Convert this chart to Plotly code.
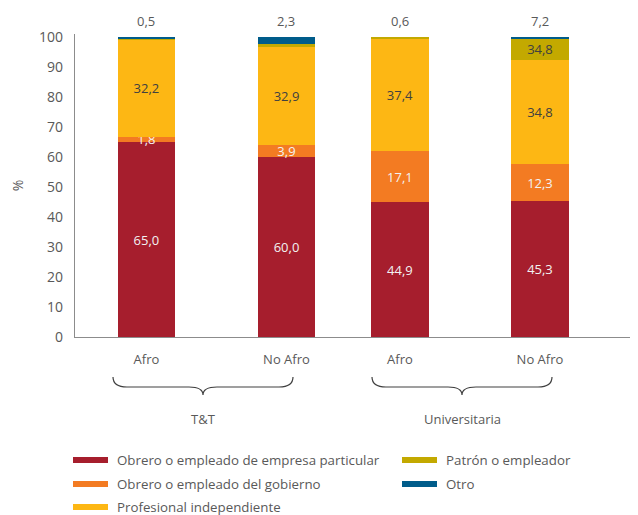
import plotly.graph_objects as go

# ---- data ----
bar_labels = ["Afro", "No Afro", "Afro", "No Afro"]
group_labels = ["T&T", "Universitaria"]
series_names = [
    "Obrero o empleado de empresa particular",
    "Obrero o empleado del gobierno",
    "Profesional independiente",
    "Patrón o empleador",
    "Otro",
]
obrero_particular = [65.0, 60.0, 44.9, 45.3]
obrero_gobierno = [1.8, 3.9, 17.1, 12.3]
profesional = [32.2, 32.9, 37.4, 34.8]
patron = [0.5, 0.9, 0.6, 7.2]
otro = [0.5, 2.3, 0.0, 0.4]
patron_text = ["", "", "", "34,8"]
top_text = ["0,5", "2,3", "0,6", "7,2"]
y_ticks = [0, 10, 20, 30, 40, 50, 60, 70, 80, 90, 100]

# ---- layout / style ----
x_pos = [0.51, 1.51, 2.32, 3.32]
bar_w = 0.41
colors = ["#A61E2D", "#F37B22", "#FDB714", "#C3A900", "#005C8A"]
FONT = "Open Sans"
GRAY = "#595959"

def fmt(v):
    return f"{v:.1f}".replace(".", ",")

series = [obrero_particular, obrero_gobierno, profesional, patron, otro]
texts = [
    [fmt(v) for v in obrero_particular],
    [fmt(v) for v in obrero_gobierno],
    [fmt(v) for v in profesional],
    patron_text,
    ["" for _ in otro],
]
text_colors = ["#F2F2F2", "#F2F2F2", "#404040", "#404040", "#F2F2F2"]

fig = go.Figure()
for name, vals, txt, col, tcol in zip(series_names, series, texts, colors, text_colors):
    fig.add_trace(go.Bar(
        x=x_pos, y=vals, name=name, width=bar_w,
        marker=dict(color=col, line=dict(width=0)),
        text=txt, textposition="inside", insidetextanchor="middle",
        constraintext="none", textangle=0,
        textfont=dict(family=FONT, size=13, color=tcol),
        showlegend=False, hoverinfo="skip",
    ))

# top labels
totals = [sum(s[i] for s in series) for i in range(len(x_pos))]
annotations = []
for xp, tot, t in zip(x_pos, totals, top_text):
    annotations.append(dict(x=xp, y=tot, xref="x", yref="y", text=t, showarrow=False,
                            yanchor="bottom", yshift=5,
                            font=dict(family=FONT, size=13, color=GRAY)))

OFF = 8  # page body offset
W, H = 638 - OFF, 515 - OFF
ml, mr, mt, mb = 75 - OFF, 0, 34 - OFF, 178
pw, ph = W - ml - mr, H - mt - mb
xr = [0, 4.02]

def px_x(px):
    return (px - 75) / pw

def px_y(py):
    return (337 - py) / ph

shapes = []
# braces
for (lx, rx, cx), lab in zip([(113, 293, 203), (372, 552, 462)], group_labels):
    x0, x1, xm = px_x(lx), px_x(rx), px_x(cx)
    y0, ym, yt = px_y(377), px_y(387), px_y(395)
    d = 14 / pw
    path = (f"M {x0},{y0} Q {x0},{ym} {x0+d},{ym} L {xm-d},{ym} "
            f"Q {xm},{ym} {xm},{yt} Q {xm},{ym} {xm+d},{ym} "
            f"L {x1-d},{ym} Q {x1},{ym} {x1},{y0}")
    shapes.append(dict(type="path", path=path, xref="paper", yref="paper",
                       line=dict(color="#404040", width=1.2)))
    annotations.append(dict(x=xm, y=px_y(419), xref="paper", yref="paper", text=lab,
                            showarrow=False, xanchor="center", yanchor="middle",
                            font=dict(family=FONT, size=13, color=GRAY)))

# legend (custom)
legend_layout = [
    (0, 73, 460), (1, 73, 484), (2, 73, 507), (3, 402, 460), (4, 402, 484)
]
for idx, sx, sy in legend_layout:
    shapes.append(dict(type="rect", xref="paper", yref="paper",
                       x0=px_x(sx), x1=px_x(sx + 35), y0=px_y(sy - 3), y1=px_y(sy + 3),
                       fillcolor=colors[idx], line=dict(width=0)))
    annotations.append(dict(x=px_x(sx + 42), y=px_y(sy), xref="paper", yref="paper",
                            text=series_names[idx], showarrow=False,
                            xanchor="left", yanchor="middle",
                            font=dict(family=FONT, size=13.3, color=GRAY)))

fig.update_layout(
    width=W, height=H,
    margin=dict(l=ml, r=mr, t=mt, b=mb),
    barmode="stack",
    plot_bgcolor="white", paper_bgcolor="white",
    font=dict(family=FONT, size=14, color=GRAY),
    showlegend=False,
    shapes=shapes,
    annotations=annotations,
    xaxis=dict(range=xr, tickvals=x_pos, ticktext=bar_labels, showgrid=False,
               zeroline=False, showline=True, linecolor="#8C8C8C", linewidth=1.2,
               ticks="outside", ticklen=10, tickcolor="rgba(0,0,0,0)",
               tickfont=dict(family=FONT, size=13, color=GRAY)),
    yaxis=dict(range=[0, 101], tickvals=y_ticks, showgrid=False, zeroline=False,
               showline=True, linecolor="#8C8C8C", linewidth=1.2,
               ticks="outside", ticklen=8, tickcolor="rgba(0,0,0,0)",
               tickfont=dict(family=FONT, size=14, color=GRAY),
               title=dict(text="%", standoff=18, font=dict(family=FONT, size=14, color=GRAY))),
)

fig.write_html("out.html")
